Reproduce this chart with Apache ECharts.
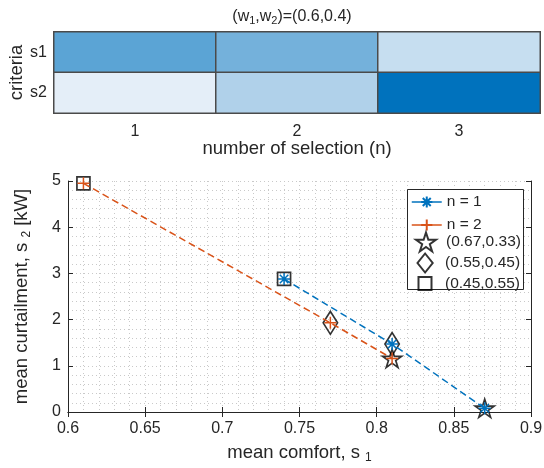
<!DOCTYPE html>
<html>
<head>
<meta charset="utf-8">
<script src="https://cdn.jsdelivr.net/npm/echarts@6/dist/echarts.min.js"></script>
<style>
  html, body { margin: 0; padding: 0; background: #fff; }
  #chart { width: 544px; height: 468px; }
</style>
</head>
<body>
<div id="chart"></div>
<script>
// heatmap: number of selection x criteria
const selections = ['1', '2', '3'];
const criteria = ['s1', 's2'];
// cell shade, 0 = lightest, 1 = darkest
const s1Shade = [0.60, 0.49, 0.13];
const s2Shade = [0.00, 0.23, 1.00];

// trade-off curves, one point per weight pair
const n1Comfort = [0.74, 0.81, 0.87];
const n1Curtail = [2.88, 1.47, 0.08];
const n2Comfort = [0.61, 0.77, 0.81];
const n2Curtail = [4.95, 1.93, 1.16];
// weight pair of point i on each curve
const weightNames = ['(0.45,0.55)', '(0.55,0.45)', '(0.67,0.33)'];

const xTicks = { min: 0.6, max: 0.9, interval: 0.05 };
const yTicks = { min: 0, max: 5, interval: 1 };

const FONT = 'Liberation Sans, Arial, Helvetica, sans-serif';
const INK = '#262626';
const BLUE = '#0072BD';
const ORANGE = '#D95319';

const ASTERISK = 'path://M0,-1L0,1M-1,0L1,0M-0.71,-0.71L0.71,0.71M-0.71,0.71L0.71,-0.71';
const PLUS = 'path://M0,-1L0,1M-1,0L1,0';
const STAR = 'path://M0,-1L0.2245,-0.309L0.951,-0.309L0.363,0.118L0.588,0.809L0,0.382L-0.588,0.809L-0.363,0.118L-0.951,-0.309L-0.2245,-0.309Z';
const DIAMOND = 'path://M0,-1.25L1,0L0,1.25L-1,0Z';
const SQUARE = 'path://M-1,-1L1,-1L1,1L-1,1Z';

const heatData = [];
selections.forEach((s, i) => {
  heatData.push([i, 0, s1Shade[i]]);
  heatData.push([i, 1, s2Shade[i]]);
});

const n1Pts = n1Comfort.map((x, i) => [x, n1Curtail[i]]);
const n2Pts = n2Comfort.map((x, i) => [x, n2Curtail[i]]);

const sub = { sub: { fontSize: 12, fontFamily: FONT, color: INK, padding: [10, 0, 0, 0] } };

const dotted = { color: '#c9c9c9', type: [1, 3], width: 1 };

const chart = echarts.init(document.getElementById('chart'));

const weightSymbols = { '(0.67,0.33)': [STAR, 19], '(0.55,0.45)': [DIAMOND, [18, 23]], '(0.45,0.55)': [SQUARE, 13] };

const weightSeries = weightNames.map((name, i) => ({
  name: name,
  type: 'scatter',
  xAxisIndex: 1,
  yAxisIndex: 1,
  symbol: weightSymbols[name][0],
  symbolSize: weightSymbols[name][1],
  symbolKeepAspect: true,
  itemStyle: { color: 'transparent', borderColor: '#000', borderWidth: 1.7 },
  z: 3,
  data: [n1Pts[i], n2Pts[i]]
}));

const legendBase = {
  orient: 'vertical',
  itemWidth: 30,
  padding: 0,
  selectedMode: false,
  textStyle: { fontFamily: FONT, fontSize: 15.5, color: INK }
};

chart.setOption({
  animation: false,
  textStyle: { fontFamily: FONT },
  grid: [
    { left: 54, right: 4, top: 32, height: 81, outerBoundsMode: 'none', containLabel: false },
    { left: 68, right: 13, top: 181, bottom: 56, outerBoundsMode: 'none', containLabel: false }
  ],
  graphic: [
    {
      type: 'text',
      x: 292,
      y: 17,
      style: {
        text: '(w{sub|1},w{sub|2})=(0.6,0.4)',
        font: '16px ' + FONT,
        fill: INK,
        align: 'center',
        verticalAlign: 'middle',
        rich: { sub: { fontSize: 11, fontFamily: FONT, fill: INK, padding: [7, 0, 0, 0] } }
      }
    },
    {
      type: 'rect',
      z: 3,
      shape: { x: 407.5, y: 189.5, width: 116, height: 100 },
      style: { fill: '#fff', stroke: INK, lineWidth: 1 }
    }
  ],
  visualMap: {
    show: false,
    seriesIndex: 0,
    dimension: 2,
    min: 0,
    max: 1,
    inRange: { color: ['#e4eef8', '#0072bd'] }
  },
  legend: [
    Object.assign({}, legendBase, {
      left: 411, top: 194, itemHeight: 14, itemGap: 7,
      data: ['n = 1', 'n = 2'],
      lineStyle: { type: 'solid', width: 1.5 }
    }),
    Object.assign({}, legendBase, { left: 415, top: 231.5, itemHeight: 19, data: [weightNames[2]] }),
    Object.assign({}, legendBase, { left: 416.5, top: 252.5, itemHeight: 19, data: [weightNames[1]] }),
    Object.assign({}, legendBase, { left: 417.5, top: 275.5, itemHeight: 13, data: [weightNames[0]] })
  ],
  xAxis: [
    {
      type: 'category',
      gridIndex: 0,
      data: selections,
      name: 'number of selection (n)',
      nameLocation: 'middle',
      nameGap: 26,
      nameMoveOverlap: false,
      nameTextStyle: { fontSize: 18.5, color: INK },
      axisLine: { show: false },
      axisTick: { show: false },
      axisLabel: { fontSize: 16, color: INK, margin: 11 }
    },
    {
      type: 'value',
      gridIndex: 1,
      min: xTicks.min, max: xTicks.max, interval: xTicks.interval,
      name: 'mean comfort, s {sub|1}',
      nameLocation: 'middle',
      nameGap: 30,
      nameMoveOverlap: false,
      nameTextStyle: { fontSize: 18.5, color: INK, rich: sub },
      axisLine: { lineStyle: { color: INK, width: 1 } },
      axisTick: { inside: true, length: 5, lineStyle: { color: INK } },
      axisLabel: { fontSize: 16, color: INK, margin: 9 },
      splitLine: { show: true, lineStyle: dotted },
      minorTick: { show: false, splitNumber: 5 },
      minorSplitLine: { show: true, lineStyle: dotted }
    },
    {
      type: 'value',
      gridIndex: 1,
      position: 'top',
      min: xTicks.min, max: xTicks.max, interval: xTicks.interval,
      axisLine: { lineStyle: { color: INK, width: 1 } },
      axisTick: { inside: true, length: 5, lineStyle: { color: INK } },
      axisLabel: { show: false },
      splitLine: { show: false }
    }
  ],
  yAxis: [
    {
      type: 'category',
      gridIndex: 0,
      data: criteria,
      inverse: true,
      name: 'criteria',
      nameLocation: 'middle',
      nameGap: 28,
      nameMoveOverlap: false,
      nameTextStyle: { fontSize: 18.5, color: INK },
      axisLine: { show: false },
      axisTick: { show: false },
      axisLabel: { fontSize: 16, color: INK, margin: 7 }
    },
    {
      type: 'value',
      gridIndex: 1,
      min: yTicks.min, max: yTicks.max, interval: yTicks.interval,
      name: 'mean curtailment, s {sub|2} [kW]',
      nameLocation: 'middle',
      nameGap: 35,
      nameMoveOverlap: false,
      nameTextStyle: { fontSize: 18.5, color: INK, rich: sub },
      axisLine: { show: true, lineStyle: { color: INK, width: 1 } },
      axisTick: { show: true, inside: true, length: 5, lineStyle: { color: INK } },
      axisLabel: { fontSize: 16, color: INK, margin: 7 },
      splitLine: { show: true, lineStyle: dotted },
      minorTick: { show: false, splitNumber: 5 },
      minorSplitLine: { show: true, lineStyle: dotted }
    },
    {
      type: 'value',
      gridIndex: 1,
      position: 'right',
      min: yTicks.min, max: yTicks.max, interval: yTicks.interval,
      axisLine: { show: true, lineStyle: { color: INK, width: 1 } },
      axisTick: { show: true, inside: true, length: 5, lineStyle: { color: INK } },
      axisLabel: { show: false },
      splitLine: { show: false }
    }
  ],
  series: [
    {
      type: 'heatmap',
      xAxisIndex: 0,
      yAxisIndex: 0,
      data: heatData,
      itemStyle: { borderColor: '#4a4a4a', borderWidth: 1.5 },
      emphasis: { disabled: true }
    },
    {
      name: 'n = 1',
      type: 'line',
      xAxisIndex: 1,
      yAxisIndex: 1,
      data: n1Pts,
      symbol: ASTERISK,
      symbolSize: 12,
      showAllSymbol: true,
      itemStyle: { color: BLUE, borderColor: BLUE, borderWidth: 1.5 },
      lineStyle: { color: BLUE, width: 1.5, type: [7, 4] },
      z: 4
    },
    {
      name: 'n = 2',
      type: 'line',
      xAxisIndex: 1,
      yAxisIndex: 1,
      data: n2Pts,
      symbol: PLUS,
      symbolSize: 12,
      showAllSymbol: true,
      itemStyle: { color: ORANGE, borderColor: ORANGE, borderWidth: 1.5 },
      lineStyle: { color: ORANGE, width: 1.5, type: [7, 4] },
      z: 4
    }
  ].concat(weightSeries)
});
</script>
</body>
</html>
